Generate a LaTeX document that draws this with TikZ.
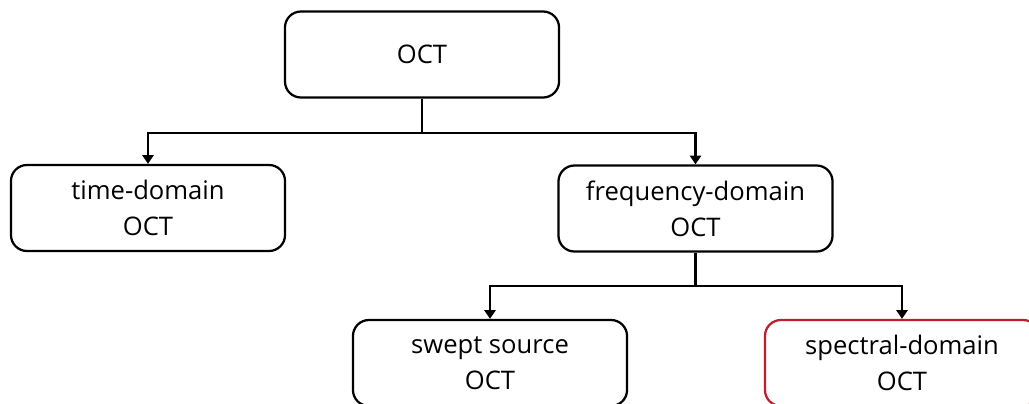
\documentclass[tikz,border=0pt]{standalone}
\usepackage{fontspec}
\setmainfont{Open Sans}
\usetikzlibrary{arrows.meta}
\definecolor{boxred}{RGB}{190,30,45}
\tikzset{
  octbox/.style={draw, line width=1.6pt, rounded corners=0.4cm, minimum width=6.85cm,
    minimum height=2.15cm, align=center, inner sep=0pt, font=\fontsize{18.2}{25.5}\selectfont},
  octarrow/.style={line width=1.6pt, -{Triangle[width=0.28cm,length=0.22cm]}}
}
\begin{document}
\begin{tikzpicture}[x=0.025cm,y=-0.025cm]
        \newcommand{\octdrop}{34}
        \newcommand{\fddrop}{33}
        \clip (0,0) rectangle (1029,403);
        % top level
        \node[octbox] (oct) at (422,54.5) {OCT};
        % second level
        \node[octbox] (td) at (148,208) {time-domain\\OCT};
        \node[octbox] (fd) at (695.5,208.5) {frequency-domain\\OCT};
        % third level
        \node[octbox] (ss) at (490,363) {swept source\\OCT};
        \node[octbox, draw=boxred] (sd) at (902,363) {spectral-domain\\OCT};
        % connectors
        \draw[octarrow] (oct.south) -- ++(0,\octdrop) -| (td.north);
        \draw[octarrow] (oct.south) -- ++(0,\octdrop) -| (fd.north);
        \draw[octarrow] (fd.south) -- ++(0,\fddrop) -| (ss.north);
        \draw[octarrow] (fd.south) -- ++(0,\fddrop) -| (sd.north);
\end{tikzpicture}
\end{document}
